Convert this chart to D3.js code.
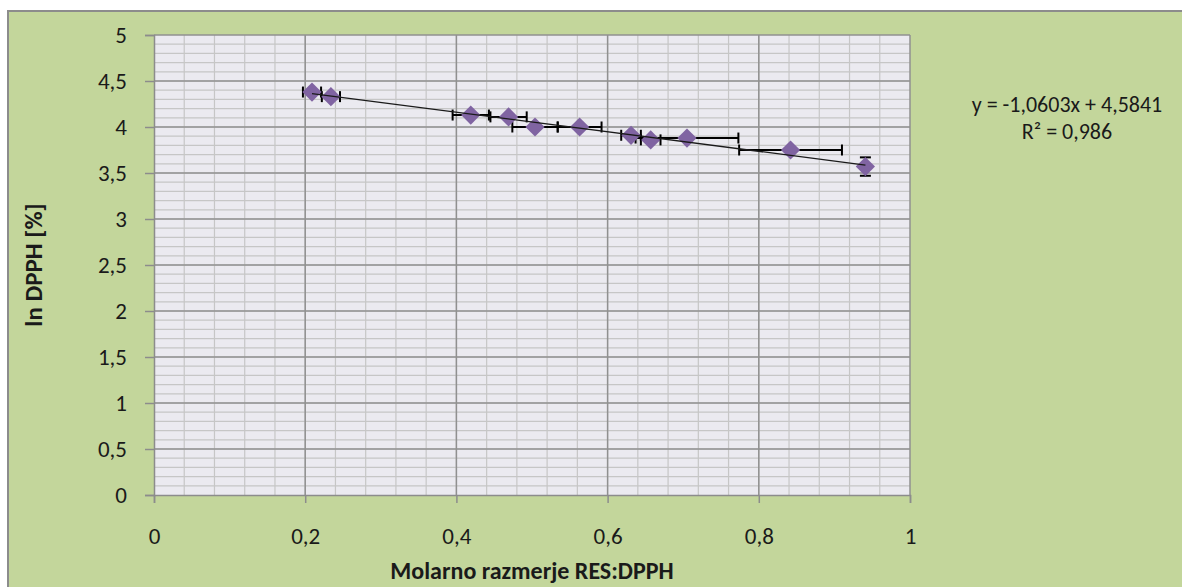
<!DOCTYPE html>
<html>
<head>
<meta charset="utf-8">
<script src="https://cdn.jsdelivr.net/npm/d3@7"></script>
<style>
  body { margin: 0; background: #ffffff; }
  svg { display: block; }
</style>
</head>
<body>
<div id="chart"></div>
<script>
// data
const ratio = [0.209, 0.234, 0.419, 0.469, 0.504, 0.563, 0.631, 0.657, 0.705, 0.842, 0.941];
const lnDpph = [4.38, 4.33, 4.13, 4.11, 4.00, 4.00, 3.91, 3.86, 3.88, 3.75, 3.57];
const ratioErr = [0.012, 0.012, 0.024, 0.024, 0.030, 0.029, 0.013, 0.013, 0.068, 0.068, 0];
const lnErr = [0, 0, 0, 0, 0, 0, 0, 0, 0, 0, 0.1];
const slope = -1.0603;
const intercept = 4.5841;
const eqLines = ["y = -1,0603x + 4,5841", "R² = 0,986"];
const xTicks = [0, 0.2, 0.4, 0.6, 0.8, 1];
const yTicks = [0, 0.5, 1, 1.5, 2, 2.5, 3, 3.5, 4, 4.5, 5];

const width = 1182;
const height = 587;
const margin = { top: 35, right: 272, bottom: 92, left: 154 };
const font = "Carlito, Lato, sans-serif";

const svg = d3.select("#chart")
    .append("svg")
    .attr("width", width)
    .attr("height", height);

// chart frame
svg.append("rect")
    .attr("x", 8)
    .attr("y", 11)
    .attr("width", width + 20)
    .attr("height", height + 20)
    .attr("fill", "#c3d69b")
    .attr("stroke", "#8c8c8c")
    .attr("stroke-width", 2);

const xScale = d3.scaleLinear()
    .domain([0, 1])
    .range([margin.left, width - margin.right]);
const yScale = d3.scaleLinear()
    .domain([0, 5])
    .range([height - margin.bottom, margin.top]);

// plot area
svg.append("rect")
    .attr("x", xScale(0))
    .attr("y", yScale(5))
    .attr("width", xScale(1) - xScale(0))
    .attr("height", yScale(0) - yScale(5))
    .attr("fill", "#ebeaf0");

// minor grid
const grid = svg.append("g");
grid.selectAll(".vminor")
    .data(d3.range(0.04, 1, 0.04))
    .enter().append("line")
    .attr("x1", d => xScale(d)).attr("x2", d => xScale(d))
    .attr("y1", yScale(0)).attr("y2", yScale(5))
    .attr("stroke", "#c6c6c6").attr("stroke-width", 1.2);
grid.selectAll(".hminor")
    .data(d3.range(0.1, 5, 0.1))
    .enter().append("line")
    .attr("x1", xScale(0)).attr("x2", xScale(1))
    .attr("y1", d => yScale(d)).attr("y2", d => yScale(d))
    .attr("stroke", "#c6c6c6").attr("stroke-width", 1.2);
// major grid
grid.selectAll(".vmajor")
    .data(xTicks.slice(1))
    .enter().append("line")
    .attr("x1", d => xScale(d)).attr("x2", d => xScale(d))
    .attr("y1", yScale(0)).attr("y2", yScale(5))
    .attr("stroke", "#909090").attr("stroke-width", 1.5);
grid.selectAll(".hmajor")
    .data(yTicks.slice(1))
    .enter().append("line")
    .attr("x1", xScale(0)).attr("x2", xScale(1))
    .attr("y1", d => yScale(d)).attr("y2", d => yScale(d))
    .attr("stroke", "#909090").attr("stroke-width", 1.5);

// axes
const locale = d3.formatLocale({ decimal: ",", thousands: ".", grouping: [3], currency: ["", ""] });
const fmt = locale.format("~g");

const xAxis = svg.append("g")
    .attr("transform", `translate(0,${yScale(0)})`)
    .call(d3.axisBottom(xScale).tickValues(xTicks).tickFormat(fmt).tickSize(8));
const yAxis = svg.append("g")
    .attr("transform", `translate(${xScale(0)},0)`)
    .call(d3.axisLeft(yScale).tickValues(yTicks).tickFormat(fmt).tickSize(9).tickPadding(18));

[xAxis, yAxis].forEach(ax => {
    ax.select(".domain").attr("stroke", "#8c8c8c").attr("stroke-width", 1.5);
    ax.selectAll(".tick line").attr("stroke", "#8c8c8c").attr("stroke-width", 1.5);
    ax.selectAll(".tick text")
        .style("font-family", font)
        .style("font-size", "23px")
        .attr("fill", "#1a1a1a");
});
xAxis.selectAll(".tick text").attr("y", 41).attr("dy", "0.35em");

svg.append("text")
    .attr("x", (xScale(0) + xScale(1)) / 2)
    .attr("y", 579)
    .attr("text-anchor", "middle")
    .style("font-family", font)
    .style("font-size", "24px")
    .style("font-weight", "bold")
    .style("fill", "#1a1a1a")
    .text("Molarno razmerje RES:DPPH");
svg.append("text")
    .attr("transform", "rotate(-90)")
    .attr("x", -(yScale(0) + yScale(5)) / 2)
    .attr("y", 42)
    .attr("text-anchor", "middle")
    .style("font-family", font)
    .style("font-size", "25px")
    .style("font-weight", "bold")
    .style("fill", "#1a1a1a")
    .text("ln DPPH [%]");

// points
const points = ratio.map((x, i) => ({ x, y: lnDpph[i], ex: ratioErr[i], ey: lnErr[i] }));

// error bars
const cap = 5.5;
const err = svg.append("g")
    .attr("stroke", "#000000")
    .attr("stroke-width", 2);
points.filter(d => d.ex > 0).forEach(d => {
    const y = yScale(d.y);
    err.append("line")
        .attr("x1", xScale(d.x - d.ex)).attr("x2", xScale(d.x + d.ex))
        .attr("y1", y).attr("y2", y);
    [d.x - d.ex, d.x + d.ex].forEach(v => {
        err.append("line")
            .attr("x1", xScale(v)).attr("x2", xScale(v))
            .attr("y1", y - cap).attr("y2", y + cap);
    });
});
points.filter(d => d.ey > 0).forEach(d => {
    const x = xScale(d.x);
    err.append("line")
        .attr("x1", x).attr("x2", x)
        .attr("y1", yScale(d.y - d.ey)).attr("y2", yScale(d.y + d.ey));
    [d.y - d.ey, d.y + d.ey].forEach(v => {
        err.append("line")
            .attr("x1", x - cap).attr("x2", x + cap)
            .attr("y1", yScale(v)).attr("y2", yScale(v));
    });
});

// diamond markers
const diamond = d3.symbol().type(d3.symbolSquare).size(185);
svg.selectAll(".marker")
    .data(points)
    .enter().append("path")
    .attr("class", "marker")
    .attr("d", diamond)
    .attr("transform", d => `translate(${xScale(d.x)},${yScale(d.y)}) rotate(45)`)
    .attr("fill", "#8064a2");

// linear trendline
const xMin = d3.min(ratio);
const xMax = d3.max(ratio);
svg.append("line")
    .attr("x1", xScale(xMin)).attr("y1", yScale(slope * xMin + intercept))
    .attr("x2", xScale(xMax)).attr("y2", yScale(slope * xMax + intercept))
    .attr("stroke", "#1a1a1a")
    .attr("stroke-width", 1.3);

// equation label
svg.selectAll(".eq")
    .data(eqLines)
    .enter().append("text")
    .attr("class", "eq")
    .attr("x", 1067)
    .attr("y", (d, i) => 112 + i * 27)
    .attr("text-anchor", "middle")
    .style("font-family", font)
    .style("font-size", "22px")
    .style("fill", "#1a1a1a")
    .text(d => d);
</script>
</body>
</html>
